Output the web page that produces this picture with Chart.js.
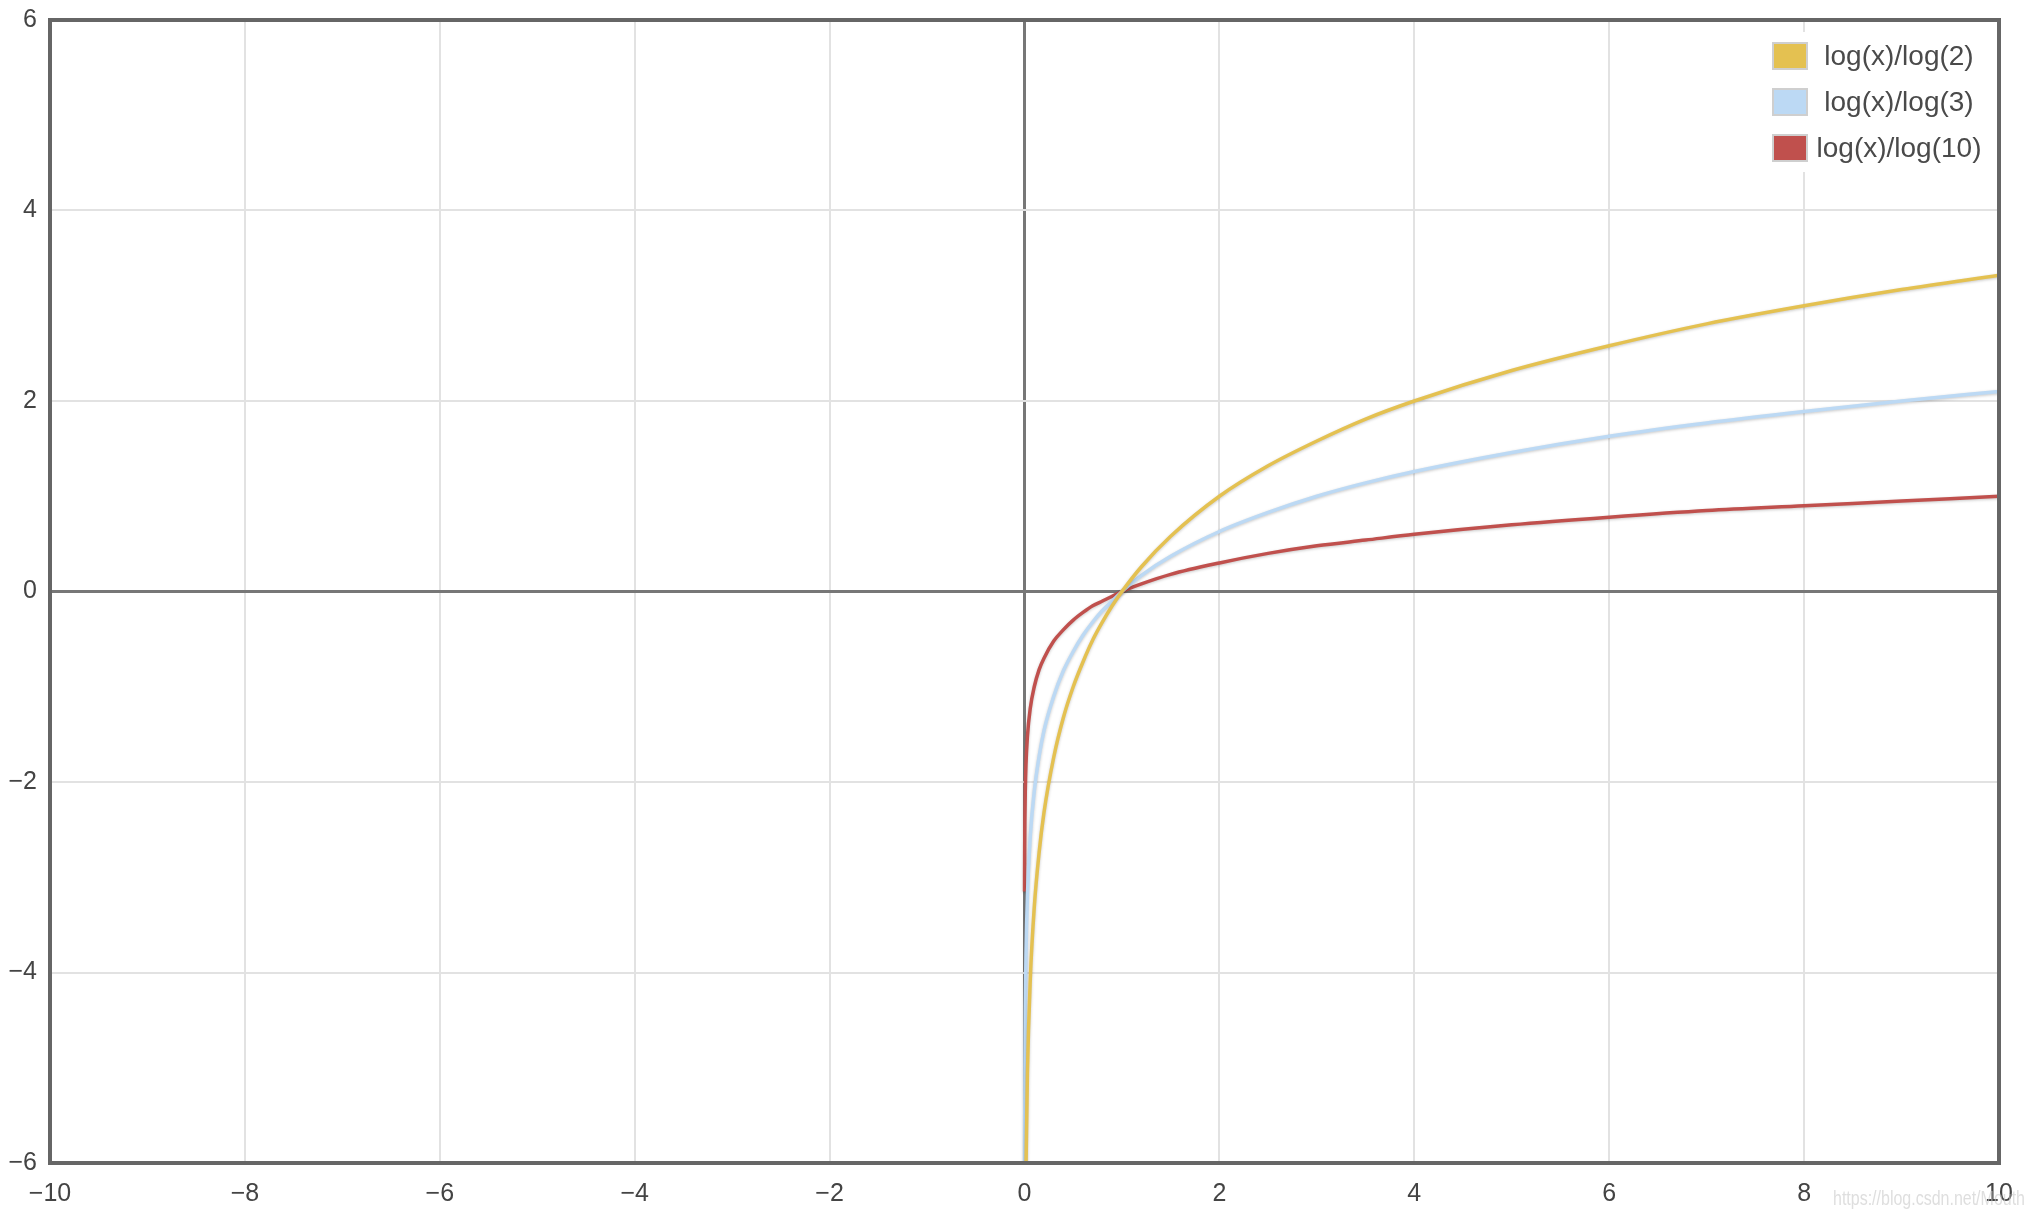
<!DOCTYPE html>
<html>
<head>
<meta charset="utf-8">
<script src="https://cdn.jsdelivr.net/npm/chart.js@4/dist/chart.umd.min.js"></script>
<style>
  html, body { margin: 0; padding: 0; background: #fff; }
  #wrap { width: 2034px; height: 1218px; }
</style>
</head>
<body>
<div id="wrap"><canvas id="logChart" width="2034" height="1218"></canvas></div>
<script>
// x samples and values
const xs = [0.0007, 0.001, 0.002, 0.004, 0.008, 0.015, 0.03, 0.06, 0.1, 0.15, 0.2, 0.3, 0.4, 0.5, 0.6, 0.7, 0.8, 0.9, 1, 1.2, 1.5, 2, 2.5, 3, 3.5, 4, 5, 6, 7, 8, 9, 10];
const log2Vals = [-10.48, -9.97, -8.97, -7.97, -6.97, -6.06, -5.06, -4.06, -3.32, -2.74, -2.32, -1.74, -1.32, -1, -0.74, -0.51, -0.32, -0.15, 0, 0.26, 0.58, 1, 1.32, 1.58, 1.81, 2, 2.32, 2.58, 2.81, 3, 3.17, 3.32];
const log3Vals = [-6.61, -6.29, -5.66, -5.03, -4.39, -3.82, -3.19, -2.56, -2.1, -1.73, -1.46, -1.1, -0.83, -0.63, -0.46, -0.32, -0.2, -0.1, 0, 0.17, 0.37, 0.63, 0.83, 1, 1.14, 1.26, 1.46, 1.63, 1.77, 1.89, 2, 2.1];
const log10Vals = [-3.15, -3, -2.7, -2.4, -2.1, -1.82, -1.52, -1.22, -1, -0.82, -0.7, -0.52, -0.4, -0.3, -0.22, -0.15, -0.1, -0.05, 0, 0.08, 0.18, 0.3, 0.4, 0.48, 0.54, 0.6, 0.7, 0.78, 0.85, 0.9, 0.95, 1];

const seriesNames = ["log(x)/log(2)", "log(x)/log(3)", "log(x)/log(10)"];
const seriesColors = ["#e4c151", "#bcd9f4", "#c0504d"];
const xTicks = [-10, -8, -6, -4, -2, 0, 2, 4, 6, 8, 10];
const yTicks = [-6, -4, -2, 0, 2, 4, 6];

const FONT = "'Liberation Sans', Helvetica, Arial, sans-serif";

function toPoints(vals) {
  return xs.map((x, i) => ({ x: x, y: vals[i] }));
}

function fmt(v) {
  return v < 0 ? "\u2212" + Math.abs(v) : String(v);
}

// soft shadow under the curves
const shadowPlugin = {
  id: "shadow",
  beforeDatasetDraw(chart) {
    const ctx = chart.ctx;
    ctx.save();
    ctx.shadowColor = "rgba(0,0,0,0.22)";
    ctx.shadowBlur = 3;
    ctx.shadowOffsetY = 1;
  },
  afterDatasetDraw(chart) {
    chart.ctx.restore();
  }
};

// frame, legend box and watermark
const decorPlugin = {
  id: "decor",
  afterDatasetsDraw(chart) {
    const ctx = chart.ctx;
    const a = chart.chartArea;
    ctx.save();

    ctx.strokeStyle = "#666";
    ctx.lineWidth = 4;
    ctx.strokeRect(a.left, a.top, a.right - a.left, a.bottom - a.top);

    // legend
    ctx.fillStyle = "#fff";
    ctx.fillRect(1760, 32, 232, 140);
    ctx.font = "28px " + FONT;
    ctx.textBaseline = "middle";
    ctx.textAlign = "center";
    chart.data.datasets.forEach((ds, i) => {
      const cy = 56 + i * 46;
      ctx.fillStyle = ds.borderColor;
      ctx.fillRect(1773, cy - 13, 34, 26);
      ctx.strokeStyle = "#cfcfcf";
      ctx.lineWidth = 2;
      ctx.strokeRect(1773, cy - 13, 34, 26);
      ctx.fillStyle = "#4a4a4a";
      ctx.fillText(ds.label, 1899, cy + 1);
    });

    // watermark
    ctx.font = "20px " + FONT;
    ctx.textAlign = "left";
    ctx.textBaseline = "alphabetic";
    ctx.fillStyle = "rgba(200,200,200,0.6)";
    ctx.fillText("https://blog.csdn.net/Mouth", 1833, 1205, 192);
    ctx.restore();
  }
};

const gridColor = (c) => (c.tick && c.tick.value === 0 ? "#777" : "#e2e2e2");
const gridWidth = (c) => (c.tick && c.tick.value === 0 ? 3 : 2);

new Chart(document.getElementById("logChart"), {
  type: "scatter",
  data: {
    datasets: [log2Vals, log3Vals, log10Vals].map((vals, i) => ({
      label: seriesNames[i],
      data: toPoints(vals),
      showLine: true,
      borderColor: seriesColors[i],
      backgroundColor: seriesColors[i],
      borderWidth: 3.5,
      pointRadius: 0,
      cubicInterpolationMode: "monotone"
    }))
  },
  options: {
    responsive: false,
    animation: false,
    events: [],
    layout: { padding: { top: 20, right: 35, left: 0, bottom: 0 } },
    plugins: { legend: { display: false }, tooltip: { enabled: false } },
    scales: {
      x: {
        type: "linear",
        min: -10,
        max: 10,
        afterBuildTicks: (s) => { s.ticks = xTicks.map(v => ({ value: v })); },
        afterFit: (s) => { s.height = 55; s.paddingLeft = 0; s.paddingRight = 0; },
        ticks: {
          callback: fmt,
          color: "#444",
          padding: 16,
          maxRotation: 0,
          font: { family: FONT, size: 25 }
        },
        grid: { color: gridColor, lineWidth: gridWidth, drawTicks: false },
        border: { display: false }
      },
      y: {
        type: "linear",
        min: -6,
        max: 6,
        afterBuildTicks: (s) => { s.ticks = yTicks.map(v => ({ value: v })); },
        afterFit: (s) => { s.width = 50; s.paddingTop = 0; s.paddingBottom = 0; },
        ticks: {
          callback: fmt,
          color: "#444",
          padding: 13,
          font: { family: FONT, size: 25 }
        },
        grid: { color: gridColor, lineWidth: gridWidth, drawTicks: false },
        border: { display: false }
      }
    }
  },
  plugins: [shadowPlugin, decorPlugin]
});
</script>
</body>
</html>
